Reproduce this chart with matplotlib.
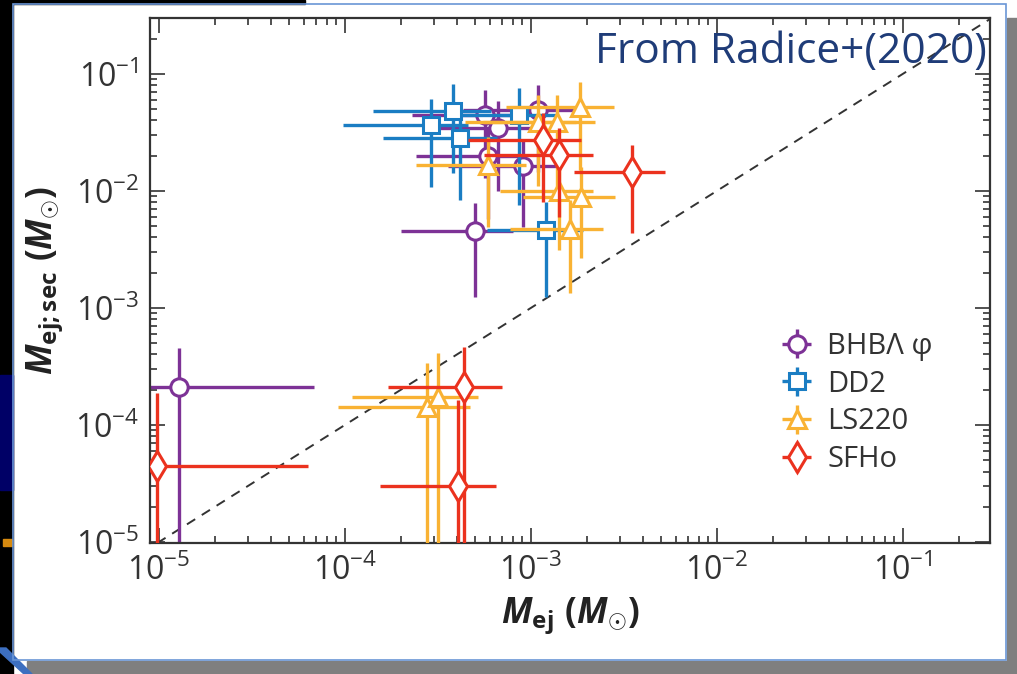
import numpy as np
import matplotlib
matplotlib.use('Agg')
import matplotlib.pyplot as plt
from matplotlib.patches import Rectangle, Polygon

plt.rcParams['font.family'] = ['Open Sans', 'DejaVu Sans']
plt.rcParams['mathtext.fontset'] = 'custom'
plt.rcParams['mathtext.rm'] = 'Open Sans'
plt.rcParams['mathtext.it'] = 'Open Sans:italic'
plt.rcParams['mathtext.bf'] = 'Open Sans:bold'
plt.rcParams['mathtext.bfit'] = 'Open Sans:italic:bold'

# ejecta masses (Msun): dynamical on x, secular on y, with lower/upper bounds
# BHB Lambda phi
bhb_x = [5.66e-4, 6.65e-4, 1.09e-3, 5.87e-4, 9.06e-4, 5.0e-4, 1.28e-5]
bhb_xlo = [2.3e-4, 2.6e-4, 4.3e-4, 2.4e-4, 3.6e-4, 2.0e-4, 0]
bhb_xhi = [9.0e-4, 1.06e-3, 1.75e-3, 9.4e-4, 1.45e-3, 8.0e-4, 6.8e-5]
bhb_y = [4.47e-2, 3.45e-2, 4.92e-2, 1.99e-2, 1.64e-2, 4.55e-3, 2.11e-4]
bhb_ylo = [1.3e-2, 1.0e-2, 1.45e-2, 5.8e-3, 4.9e-3, 1.24e-3, 0]
bhb_yhi = [7.3e-2, 5.9e-2, 8.05e-2, 3.4e-2, 2.8e-2, 7.9e-3, 4.55e-4]

# DD2
dd2_x = [3.81e-4, 2.90e-4, 4.15e-4, 8.6e-4, 1.2e-3]
dd2_xlo = [1.42e-4, 9.75e-5, 1.6e-4, 3.4e-4, 5.8e-4]
dd2_xhi = [6.1e-4, 4.6e-4, 6.6e-4, 1.38e-3, 1.9e-3]
dd2_y = [4.83e-2, 3.66e-2, 2.84e-2, 4.47e-2, 4.64e-3]
dd2_ylo = [1.43e-2, 1.08e-2, 8.4e-3, 7.5e-3, 1.24e-3]
dd2_yhi = [8.2e-2, 6.1e-2, 4.9e-2, 7.6e-2, 8.05e-3]

# LS220
ls_x = [1.09e-3, 1.38e-3, 1.83e-3, 5.87e-4, 1.42e-3, 1.86e-3, 1.62e-3, 2.76e-4, 3.16e-4]
ls_xlo = [4.4e-4, 5.5e-4, 7.3e-4, 2.4e-4, 6.8e-4, 9.1e-4, 7.7e-4, 9.2e-5, 1.09e-4]
ls_xhi = [1.75e-3, 2.2e-3, 2.8e-3, 9.4e-4, 2.15e-3, 2.83e-3, 2.44e-3, 4.7e-4, 5.19e-4]
ls_y = [3.89e-2, 3.89e-2, 5.22e-2, 1.67e-2, 1.0e-2, 8.9e-3, 4.73e-3, 1.43e-4, 1.73e-4]
ls_ylo = [1.1e-2, 1.1e-2, 1.5e-2, 4.9e-3, 3.13e-3, 2.67e-3, 1.34e-3, 0, 0]
ls_yhi = [6.6e-2, 6.6e-2, 8.5e-2, 2.9e-2, 1.84e-2, 1.6e-2, 8.4e-3, 3.39e-4, 4.12e-4]

# SFHo
sf_x = [1.16e-3, 1.42e-3, 3.49e-3, 4.37e-4, 4.05e-4, 9.76e-6]
sf_xlo = [4.6e-4, 5.6e-4, 1.70e-3, 1.70e-4, 1.54e-4, 0]
sf_xhi = [1.85e-3, 2.15e-3, 5.25e-3, 6.98e-4, 6.49e-4, 6.3e-5]
sf_y = [2.73e-2, 2.03e-2, 1.45e-2, 2.11e-4, 3.01e-5, 4.47e-5]
sf_ylo = [8.0e-3, 6.0e-3, 4.38e-3, 0, 0, 0]
sf_yhi = [4.6e-2, 3.45e-2, 2.47e-2, 4.64e-4, 1.64e-4, 1.88e-4]

fig = plt.figure(figsize=(10.17, 6.74), dpi=100)

# slide background around the chart (pixel coordinates)
bg = fig.add_axes([0, 0, 1, 1], zorder=-5)
bg.set_xlim(0, 1017)
bg.set_ylim(674, 0)
bg.axis('off')
bg.add_patch(Rectangle((0, 0), 305, 4, color='black'))
bg.add_patch(Rectangle((0, 0), 13, 674, color='black'))
bg.add_patch(Rectangle((0, 375), 13, 115, color='#000066'))
bg.add_patch(Rectangle((27, 661), 990, 13, color='#7f7f7f'))
bg.add_patch(Rectangle((1007, 18), 10, 656, color='#7f7f7f'))
bg.add_patch(Polygon([(0, 648), (6, 648), (32, 674), (24, 674), (0, 652)], color='#3d6fc0'))
bg.add_patch(Rectangle((3, 539), 9, 7, color='#d68a10'))
bg.add_patch(Rectangle((13, 4), 993, 656, fill=False, ec='#6a96d6', lw=1.2))

ax = fig.add_axes([150 / 1017, 1 - 543 / 674, 840 / 1017, 525 / 674])
ax.set_xscale('log')
ax.set_yscale('log')


def draw(x, xlo, xhi, y, ylo, yhi, color, marker, ms, label, z):
    x = np.array(x)
    y = np.array(y)
    xlo = np.maximum(np.array(xlo), 1e-9)
    ylo = np.maximum(np.array(ylo), 1e-9)
    ax.errorbar(x, y, xerr=[x - xlo, np.array(xhi) - x],
                yerr=[y - ylo, np.array(yhi) - y],
                fmt=marker, color=color, mfc='white', mec=color, ms=ms,
                mew=2.2, elinewidth=2.4, capsize=0, label=label, zorder=z)


draw(bhb_x, bhb_xlo, bhb_xhi, bhb_y, bhb_ylo, bhb_yhi, '#7d3296', 'o', 12.5, 'BHBΛ φ', 2)
draw(dd2_x, dd2_xlo, dd2_xhi, dd2_y, dd2_ylo, dd2_yhi, '#1a7dc3', 's', 12, 'DD2', 3)
draw(ls_x, ls_xlo, ls_xhi, ls_y, ls_ylo, ls_yhi, '#f9b233', '^', 13, 'LS220', 4)
draw(sf_x, sf_xlo, sf_xhi, sf_y, sf_ylo, sf_yhi, '#eb321e', 'd', 15, 'SFHo', 5)

ax.axline((1e-5, 1e-5), (1e-1, 1e-1), color='#333333', ls=(0, (5, 4)), lw=1.4, zorder=1)

ax.set_xlim(8.95e-6, 0.294)
ax.set_ylim(9.8e-6, 0.3)

for s in ax.spines.values():
    s.set_color('#333333')
    s.set_linewidth(1.6)
ax.tick_params(which='both', direction='in', top=True, right=True,
               color='#333333', labelcolor='#333333', width=1.2)
ax.tick_params(which='major', length=11, labelsize=23, pad=8)
ax.tick_params(which='minor', length=5)

ax.set_xlabel(r'$\mathbfit{M}_{\mathbf{ej}}\ \mathbf{(}\mathbfit{M}_{\odot}\mathbf{)}$',
              fontsize=25, color='#222222')
ax.set_ylabel(r'$\mathbfit{M}_{\mathbf{ej{;}sec}}\ \mathbf{(}\mathbfit{M}_{\odot}\mathbf{)}$',
              fontsize=25, color='#222222')
ax.xaxis.set_label_coords(0.5, -0.1)
ax.yaxis.set_label_coords(-0.1, 0.5)

ax.legend(loc='upper left', bbox_to_anchor=(0.744, 0.402), frameon=False,
          fontsize=21, handlelength=1.5, handletextpad=0.3, labelspacing=0.3,
          borderpad=0, borderaxespad=0, labelcolor='#333333')

fig.text(987 / 1017, 1 - 63 / 674, 'From Radice+(2020)', ha='right', va='baseline',
         fontsize=30.5, color='#1f3c78')

fig.savefig('out.png', dpi=100)
